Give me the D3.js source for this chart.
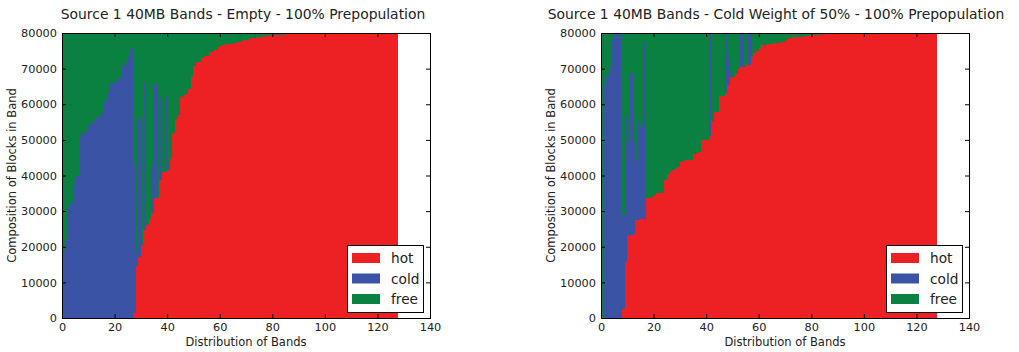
<!DOCTYPE html>
<html>
<head>
<meta charset="utf-8">
<script src="https://cdn.jsdelivr.net/npm/d3@7"></script>
<style>
  body { margin: 0; background: #fff; }
  svg { font-family: "DejaVu Sans", sans-serif; }
</style>
</head>
<body>
<svg id="chart" width="1019" height="352"></svg>
<script>
// bands 0..127, each band holds 80000 blocks split into hot / cold / free
const bands = d3.range(128);
const seriesKeys = ['hot', 'cold', 'free'];
const bandCapacity = 80000;
const xTicks = [0, 20, 40, 60, 80, 100, 120, 140];
const yTicks = [0, 10000, 20000, 30000, 40000, 50000, 60000, 70000, 80000];

// "Empty" run
const emptyHot = [
  0, 0, 0, 0, 0, 0, 0, 0, 0, 0,
  0, 0, 0, 0, 0, 0, 0, 0, 0, 0,
  0, 0, 0, 0, 0, 0, 0, 1300, 14600, 17200,
  20500, 24700, 26100, 27700, 29400, 33600, 33600, 38700, 41100, 41100,
  41500, 44500, 51800, 55800, 57000, 61900, 62600, 62900, 64200, 67600,
  70700, 71900, 71900, 72900, 73500, 73500, 74600, 74600, 75200, 76100,
  76400, 76500, 76800, 76800, 76900, 77300, 77300, 77600, 77700, 78000,
  78100, 78500, 78500, 78700, 78800, 79000, 79000, 79100, 79200, 79300,
  79400, 79400, 79500, 79500, 79500, 79600, 79600, 79600, 79700, 79700,
  79700, 79700, 79800, 79800, 79800, 79800, 79800, 79900, 79900, 79900,
  79900, 80000, 80000, 80000, 80000, 80000, 80000, 80000, 80000, 80000,
  80000, 80000, 80000, 80000, 80000, 80000, 80000, 80000, 80000, 80000,
  80000, 80000, 80000, 80000, 80000, 80000, 80000, 80000
];
const emptyCold = [
  19100, 22100, 30800, 32200, 37800, 40000, 40000, 51300, 52300, 52300,
  54200, 54800, 55600, 56300, 56300, 57900, 60800, 63400, 65900, 65900,
  66300, 67300, 67300, 70800, 72000, 72900, 75400, 41600, 3600, 38900,
  400, 41600, 0, 300, 13300, 32100, 0, 23000, 0, 21500,
  0, 0, 0, 0, 0, 0, 0, 0, 0, 0,
  0, 0, 0, 0, 0, 0, 0, 0, 0, 0,
  0, 0, 0, 0, 0, 0, 0, 0, 0, 0,
  0, 0, 0, 0, 0, 0, 0, 0, 0, 0,
  0, 0, 0, 0, 0, 0, 0, 0, 0, 0,
  0, 0, 0, 0, 0, 0, 0, 0, 0, 0,
  0, 0, 0, 0, 0, 0, 0, 0, 0, 0,
  0, 0, 0, 0, 0, 0, 0, 0, 0, 0,
  0, 0, 0, 0, 0, 0, 0, 0
];

// "Cold Weight of 50%" run
const weightedHot = [
  0, 0, 0, 0, 0, 0, 0, 0, 2400, 15800,
  23000, 23300, 23600, 27500, 27500, 27700, 27700, 33600, 33800, 34100,
  34500, 35000, 35000, 35000, 38700, 40100, 41100, 41500, 42000, 42500,
  43900, 44200, 44400, 44400, 44400, 46000, 46200, 46600, 50100, 50100,
  50100, 51100, 55400, 57900, 57900, 62400, 62400, 63100, 65500, 67700,
  67700, 68900, 69800, 70400, 70400, 70900, 71000, 73400, 74500, 74900,
  75700, 76600, 76600, 76800, 76800, 76900, 77100, 77100, 77200, 77600,
  78000, 78500, 78600, 78800, 78900, 79000, 79000, 79100, 79200, 79300,
  79400, 79400, 79500, 79500, 79600, 79600, 79700, 79700, 79800, 79800,
  79800, 79800, 79800, 79800, 79800, 79800, 79900, 79900, 79900, 79900,
  79900, 79900, 79900, 79900, 79900, 79900, 80000, 80000, 80000, 80000,
  80000, 80000, 80000, 80000, 80000, 80000, 80000, 80000, 80000, 80000,
  80000, 80000, 80000, 80000, 80000, 80000, 80000, 80000
];
const weightedCold = [
  0, 65400, 67900, 70400, 78200, 80000, 80000, 80000, 26500, 40900,
  26500, 45600, 25900, 16700, 27900, 26200, 49400, 0, 0, 0,
  0, 0, 0, 0, 0, 0, 0, 0, 0, 300,
  0, 0, 0, 0, 0, 0, 0, 0, 0, 0,
  0, 28600, 0, 0, 0, 0, 0, 16600, 7800, 1400,
  0, 0, 0, 9300, 0, 0, 8700, 0, 0, 0,
  0, 0, 0, 0, 0, 0, 0, 0, 0, 0,
  0, 0, 0, 0, 0, 0, 0, 0, 0, 0,
  0, 0, 0, 0, 0, 0, 0, 0, 0, 0,
  0, 0, 0, 0, 0, 0, 0, 0, 0, 0,
  0, 0, 0, 0, 0, 0, 0, 0, 0, 0,
  0, 0, 0, 0, 0, 0, 0, 0, 0, 0,
  0, 0, 0, 0, 0, 0, 0, 0
];

const color = d3.scaleOrdinal()
  .domain(seriesKeys)
  .range(['#ed2024', '#3a53a4', '#0b8141']);

const svg = d3.select('#chart');
const plotTop = 33, plotBottom = 318;

function drawPanel(cfg) {
  const x = d3.scaleLinear().domain([0, 140]).range([cfg.left, cfg.right]);
  const y = d3.scaleLinear().domain([0, bandCapacity]).range([plotBottom, plotTop]);

  const rows = bands.map(i => ({
    band: i,
    hot: cfg.hot[i],
    cold: cfg.cold[i],
    free: bandCapacity - cfg.hot[i] - cfg.cold[i]
  }));
  const stacked = d3.stack().keys(seriesKeys)(rows);

  const g = svg.append('g');

  g.selectAll('g.layer')
    .data(stacked)
    .enter()
    .append('g')
    .attr('class', 'layer')
    .attr('fill', d => color(d.key))
    .selectAll('rect')
    .data(d => d)
    .enter()
    .append('rect')
    .attr('x', d => x(d.data.band))
    .attr('width', d => x(d.data.band + 1) - x(d.data.band))
    .attr('y', d => y(d[1]))
    .attr('height', d => y(d[0]) - y(d[1]))
    .attr('shape-rendering', 'crispEdges');

  // ticks on all four sides, pointing inward (classic matplotlib look)
  const axes = [
    [d3.axisBottom(x).tickValues(xTicks).tickFormat(d3.format('d')), `translate(0,${plotBottom})`],
    [d3.axisTop(x).tickValues(xTicks).tickFormat(''), `translate(0,${plotTop})`],
    [d3.axisLeft(y).tickValues(yTicks).tickFormat(d3.format('d')), `translate(${cfg.left},0)`],
    [d3.axisRight(y).tickValues(yTicks).tickFormat(''), `translate(${cfg.right},0)`]
  ];
  axes.forEach(([axis, tr]) => {
    const a = g.append('g')
      .attr('transform', tr)
      .call(axis.tickSizeInner(-4).tickSizeOuter(0).tickPadding(5));
    a.select('.domain').remove();
    a.selectAll('text')
      .style('font-size', '11.3px')
      .style('font-family', '"DejaVu Sans", sans-serif')
      .attr('fill', '#222');
  });

  g.append('rect')
    .attr('x', cfg.left)
    .attr('y', plotTop)
    .attr('width', cfg.right - cfg.left)
    .attr('height', plotBottom - plotTop)
    .attr('fill', 'none')
    .attr('stroke', '#000')
    .attr('stroke-width', 1)
    .attr('shape-rendering', 'crispEdges');

  g.append('text')
    .attr('x', cfg.titleX)
    .attr('y', 19)
    .attr('text-anchor', 'middle')
    .style('font-size', '13.9px')
    .attr('fill', '#222')
    .text(cfg.title);

  g.append('text')
    .attr('x', (cfg.left + cfg.right) / 2)
    .attr('y', 346)
    .attr('text-anchor', 'middle')
    .style('font-size', '11.5px')
    .attr('fill', '#222')
    .text('Distribution of Bands');

  g.append('text')
    .attr('transform', `translate(${cfg.left - 46},${(plotTop + plotBottom) / 2}) rotate(-90)`)
    .attr('text-anchor', 'middle')
    .style('font-size', '11.5px')
    .attr('fill', '#222')
    .text('Composition of Blocks in Band');

  // legend, lower right
  const lx = cfg.right - 83, ly = 245;
  const legend = g.append('g').attr('transform', `translate(${lx},${ly})`);
  legend.append('rect')
    .attr('width', 76).attr('height', 67)
    .attr('fill', '#fff').attr('stroke', '#000')
    .attr('shape-rendering', 'crispEdges');
  const item = legend.selectAll('g.item')
    .data(seriesKeys)
    .enter()
    .append('g')
    .attr('class', 'item')
    .attr('transform', (d, i) => `translate(5,${8 + i * 20.5})`);
  item.append('rect')
    .attr('width', 28).attr('height', 10)
    .attr('fill', d => color(d));
  item.append('text')
    .attr('x', 39)
    .attr('y', 10)
    .style('font-size', '13.7px')
    .attr('fill', '#222')
    .text(d => d);
}

drawPanel({
  left: 62, right: 430, titleX: 243,
  title: 'Source 1 40MB Bands - Empty - 100% Prepopulation',
  hot: emptyHot, cold: emptyCold
});
drawPanel({
  left: 601, right: 969, titleX: 776,
  title: 'Source 1 40MB Bands - Cold Weight of 50% - 100% Prepopulation',
  hot: weightedHot, cold: weightedCold
});
</script>
</body>
</html>
